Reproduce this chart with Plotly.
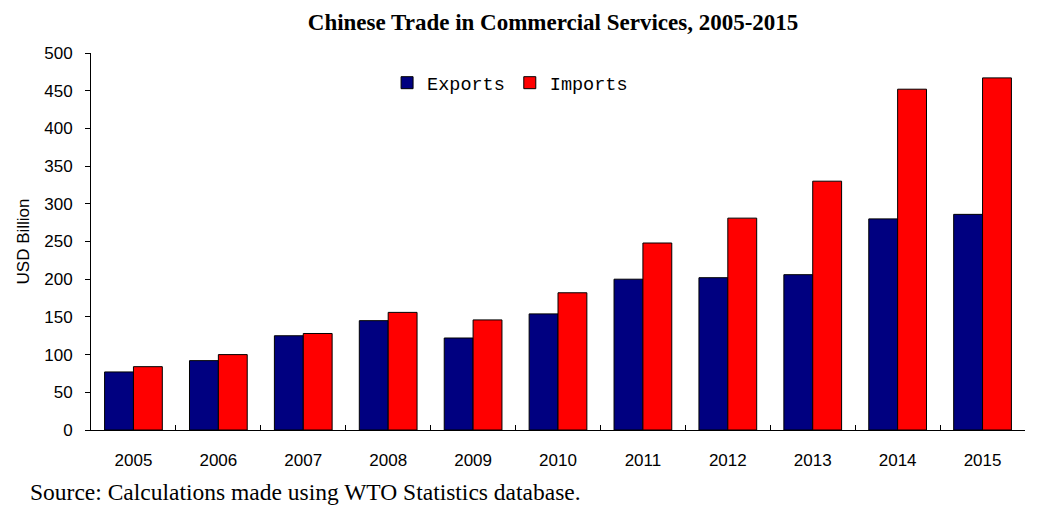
import plotly.graph_objects as go

years = ["2005", "2006", "2007", "2008", "2009", "2010", "2011", "2012", "2013", "2014", "2015"]
exports = [77, 92, 125, 145, 122, 154, 200, 202, 206, 280, 286]
imports = [84, 100, 128, 156, 146, 182, 248, 281, 330, 452, 467]

fig = go.Figure()
fig.add_trace(go.Bar(x=years, y=exports, name="Exports",
                     marker=dict(color="#000080", line=dict(color="black", width=1))))
fig.add_trace(go.Bar(x=years, y=imports, name="Imports",
                     marker=dict(color="#FF0000", line=dict(color="black", width=1))))

# page is offset 8px by the body margin, so margins are shifted accordingly
fig.update_layout(
    width=1043, height=514,
    margin=dict(l=83, r=26, t=45, b=92),
    paper_bgcolor="white", plot_bgcolor="white",
    barmode="group", bargap=0.32, bargroupgap=0,
    title=dict(text="<b>Chinese Trade in Commercial Services, 2005-2015</b>",
               x=0.5226, xanchor="center", y=0.9737, yanchor="middle",
               font=dict(family="Liberation Serif", size=23, color="black")),
    legend=dict(orientation="h", x=0.317, xanchor="left", y=0.92, yanchor="middle",
                font=dict(family="Liberation Mono", size=18.5, color="black"),
                bgcolor="rgba(0,0,0,0)", itemwidth=30),
    showlegend=True,
)
fig.update_xaxes(
    type="category", showline=True, linecolor="black", linewidth=1,
    ticks="inside", tickson="boundaries", ticklen=5, tickcolor="black",
    tickfont=dict(family="Liberation Sans", size=17, color="black"),
    ticklabelstandoff=15,
    showgrid=False, zeroline=False,
)
fig.update_yaxes(
    range=[0, 500], dtick=50, showline=True, linecolor="black", linewidth=1,
    ticks="outside", ticklen=5, tickcolor="black",
    tickfont=dict(family="Liberation Sans", size=17, color="black"),
    ticklabelstandoff=9,
    title=dict(text="USD Billion", font=dict(family="Liberation Sans", size=17, color="black"), standoff=10),
    showgrid=False, zeroline=False,
)
fig.add_annotation(text="Source: Calculations made using WTO Statistics database.",
                   xref="paper", yref="paper", x=-0.0675, y=-0.1645, xanchor="left", yanchor="middle",
                   showarrow=False, font=dict(family="Liberation Serif", size=23.5, color="black"))

fig.write_html("out.html")
